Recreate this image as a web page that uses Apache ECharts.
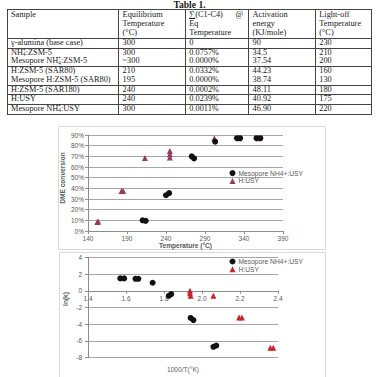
<!DOCTYPE html>
<html><head><meta charset="utf-8">
<script src="https://cdn.jsdelivr.net/npm/echarts@6/dist/echarts.min.js"></script>
<style>
html,body{margin:0;padding:0;background:#fff;width:379px;height:377px;overflow:hidden;}
#chart{position:absolute;left:0;top:0;width:379px;height:377px;}
#tblwrap{position:absolute;left:0;top:0;width:379px;font-family:"Liberation Serif","DejaVu Serif",serif;color:#1a1a1a;z-index:2;}
#ttl{position:absolute;left:0;width:379px;top:-1px;text-align:center;font-weight:bold;font-size:9.6px;line-height:11px;}
table{position:absolute;left:6.5px;top:9.3px;border-collapse:collapse;font-size:8.3px;table-layout:fixed;}
td{border-left:0.8px solid #444;border-right:0.8px solid #444;padding:0 0 0 3.5px;vertical-align:middle;white-space:nowrap;line-height:8.6px;}
tr.hdr td{vertical-align:top;line-height:8.8px;padding-top:1px;height:26.7px;border-top:0.8px solid #444;border-bottom:0.8px solid #444;}
tr.bl td{border-bottom:0.8px solid #444;}
.sb{font-size:5.2px;position:relative;top:1.5px;line-height:0;vertical-align:baseline;}
.sp{font-size:5.2px;position:relative;top:-3px;line-height:0;vertical-align:baseline;}
.just{display:flex;justify-content:space-between;padding-right:5px;}
.u{text-decoration:underline;}
</style></head>
<body>
<div id="chart"></div>
<div id="tblwrap"><div id="ttl">Table 1.</div><table id="tbl"></table></div>
<script>
// ---- table data ----
const tableTitle = "Table 1.";
const headerLines = [
  ["Sample"],
  ["Equilibrium", "Temperature", "(°C)"],
  ["∑(C1-C4)|@", "Eq", "Temperature"],
  ["Activation", "energy", "(KJ/mole)"],
  ["Light-off", "Temperature", "(°C)"]
];
const samples = ["γ-alumina (base case)", "NH4+:ZSM-5", "Mesopore NH4+:ZSM-5", "H:ZSM-5 (SAR80)",
  "Mesopore H:ZSM-5 (SAR80)", "H:ZSM-5 (SAR180)", "H:USY", "Mesopore NH4+:USY"];
const eqTemps = ["300", "300", "~300", "210", "195", "240", "240", "300"];
const sumC1C4 = ["0", "0.0757%", "0.0000%", "0.0332%", "0.0000%", "0.0002%", "0.0239%", "0.0011%"];
const activationEnergy = ["90", "34.5", "37.54", "44.23", "38.74", "48.11", "40.92", "46.90"];
const lightOffTemps = ["230", "210", "200", "160", "130", "180", "175", "220"];

// ---- chart 1: conversion vs temperature ----
const seriesNames = ["Mesopore NH4+:USY", "H:USY"];
const tempMeso = [210, 214, 240, 244, 273, 276, 303, 331, 335, 356, 361];
const convMeso = [10, 9.5, 33.5, 35.5, 70, 68, 83.7, 87, 87, 87, 87];
const tempHUSY = [152, 153, 183, 185, 213, 245, 245, 245, 302, 334, 359];
const convHUSY = [8.5, 8.8, 37.5, 37.5, 68.5, 69, 72, 75, 87, 87, 87];
const tempTicks = [140, 190, 240, 290, 340, 390];

// ---- chart 2: Arrhenius ----
const invTMeso = [1.57, 1.59, 1.65, 1.665, 1.74, 1.825, 1.838, 1.94, 1.955, 2.06, 2.075];
const lnkMeso = [1.48, 1.48, 1.43, 1.43, 0.96, -0.6, -0.4, -3.25, -3.5, -6.7, -6.55];
const invTHUSY = [1.937, 1.937, 1.94, 2.06, 2.195, 2.21, 2.36, 2.375];
const lnkHUSY = [0, -0.3, -0.6, -0.6, -3.2, -3.2, -6.8, -6.8];
const lnkRange = [-8, 4];

// build table
const colW = [111.6, 66.7, 63.3, 66.7, 56];
const rowH = [9, 9, 9.3, 9.3, 9.5, 9.6, 9, 9];
const bottomLine = [true, false, true, false, true, true, true, true];
function fmt(s){ return s.replace(/NH4\+/g, 'NH<span class="sb">4</span><span class="sp" style="margin-left:-2.8px">+</span>'); }
let html = '<colgroup>' + colW.map(w => '<col style="width:' + w + 'px">').join('') + '</colgroup>';
html += '<tr class="hdr">' + headerLines.map(lines => '<td>' + lines.map(l => {
  if (l.indexOf('|') >= 0) { const p = l.split('|'); return '<div class="just"><span><span class="u">∑</span>' + p[0].slice(1) + '</span><span>' + p[1] + '</span></div>'; }
  return '<div>' + l + '</div>';
}).join('') + '</td>').join('') + '</tr>';
samples.forEach((s, i) => {
  html += '<tr' + (bottomLine[i] ? ' class="bl"' : '') + ' style="height:' + rowH[i] + 'px">' +
    [fmt(s), eqTemps[i], sumC1C4[i], activationEnergy[i], lightOffTemps[i]].map(c => '<td>' + c + '</td>').join('') + '</tr>';
});
document.getElementById('tbl').innerHTML = html;
document.getElementById('ttl').textContent = tableTitle;

const FF = '"Liberation Sans", Arial, sans-serif';
const lblStyle = {fontSize: 6.5, color: '#595959', fontFamily: FF};
const titleStyle = {fontSize: 6.6, color: '#595959', fontFamily: FF, fontWeight: 'bold'};
const axLine = {show: true, lineStyle: {color: '#8c8c8c', width: 1}};
const tick = {show: true, length: 3, lineStyle: {color: '#8c8c8c'}};
const split = {show: true, lineStyle: {color: '#a6a6a6', width: 1}};
const black = '#111111';
const maroon = '#963a5e';
const red = '#c8252c';

const g2 = {left: 88, top: 257.3, width: 190, height: 100.4};
// place the 2nd x axis where ln(k) = 0 (axis crossing)
const zeroOffset = -g2.height * (0 - lnkRange[0]) / (lnkRange[1] - lnkRange[0]);

const chart = echarts.init(document.getElementById('chart'), null, {renderer: 'svg'});
chart.setOption({
  animation: false,
  backgroundColor: '#fff',
  grid: [
    {left: 88, top: 135, width: 195, height: 96, outerBoundsMode: 'none', containLabel: false},
    Object.assign({outerBoundsMode: 'none', containLabel: false}, g2)
  ],
  xAxis: [
    {gridIndex: 0, type: 'value', min: tempTicks[0], max: tempTicks[tempTicks.length - 1], interval: tempTicks[1] - tempTicks[0],
     axisLine: axLine, axisTick: tick, splitLine: {show: false},
     axisLabel: Object.assign({margin: 4}, lblStyle),
     name: 'Temperature (°C)', nameLocation: 'middle', nameGap: 10.5, nameMoveOverlap: false, nameTextStyle: titleStyle},
    {gridIndex: 1, type: 'value', min: 1.4, max: 2.4, interval: 0.2, offset: zeroOffset,
     axisLine: Object.assign({onZero: false}, axLine), axisTick: tick, splitLine: {show: false},
     axisLabel: Object.assign({margin: 4, formatter: v => v.toFixed(1)}, lblStyle),
     name: '1000/T(°K)', nameLocation: 'middle', nameGap: 75, nameMoveOverlap: false, nameTextStyle: Object.assign({}, titleStyle, {fontWeight: 'normal'})}
  ],
  yAxis: [
    {gridIndex: 0, type: 'value', min: 0, max: 90, interval: 10,
     axisLine: axLine, axisTick: tick, splitLine: split,
     axisLabel: Object.assign({margin: 4, formatter: '{value}%'}, lblStyle)},
    {gridIndex: 1, type: 'value', min: lnkRange[0], max: lnkRange[1], interval: 2,
     axisLine: axLine, axisTick: tick, splitLine: split,
     axisLabel: Object.assign({margin: 6}, lblStyle)}
  ],
  legend: [
    {left: 229.5, top: 169.6, orient: 'vertical', padding: 0, itemGap: 0.8, itemWidth: 6, itemHeight: 6,
     textStyle: {fontSize: 6.7, color: '#595959', fontFamily: FF, lineHeight: 7, padding: [0, 0, 0, -2]},
     data: [{name: seriesNames[0], icon: 'circle', itemStyle: {color: black}},
            {name: seriesNames[1], icon: 'triangle', itemStyle: {color: maroon}}]},
    {left: 229.5, top: 258, orient: 'vertical', padding: 0, itemGap: 0.8, itemWidth: 6, itemHeight: 6,
     textStyle: {fontSize: 6.7, color: '#595959', fontFamily: FF, lineHeight: 7, padding: [0, 0, 0, -2]},
     data: [{name: seriesNames[0], icon: 'circle', itemStyle: {color: black}},
            {name: seriesNames[1], icon: 'triangle', itemStyle: {color: red}}]}
  ],
  graphic: [
    {type: 'rect', shape: {x: 58.5, y: 126.5, width: 267, height: 123}, style: {fill: 'none', stroke: '#d9d9d9', lineWidth: 1}, z: -1},
    {type: 'rect', shape: {x: 59.5, y: 252.5, width: 266, height: 130}, style: {fill: 'none', stroke: '#d9d9d9', lineWidth: 1}, z: -1},
    {type: 'text', x: 62, y: 178, rotation: Math.PI / 2, style: {text: 'DME conversion', fill: '#595959', font: 'bold 6.6px ' + FF, textAlign: 'center', textVerticalAlign: 'middle'}},
    {type: 'text', x: 65, y: 299, rotation: Math.PI / 2, style: {text: 'ln(k)', fill: '#595959', font: 'bold 6.6px ' + FF, textAlign: 'center', textVerticalAlign: 'middle'}}
  ],
  series: [
    {name: seriesNames[0], type: 'scatter', xAxisIndex: 0, yAxisIndex: 0, symbol: 'circle', symbolSize: 6, z: 3,
     itemStyle: {color: black, opacity: 1}, data: tempMeso.map((t, i) => [t, convMeso[i]])},
    {name: seriesNames[1], type: 'scatter', xAxisIndex: 0, yAxisIndex: 0, symbol: 'triangle', symbolSize: 6, z: 2,
     itemStyle: {color: maroon, opacity: 1}, data: tempHUSY.map((t, i) => [t, convHUSY[i]])},
    {name: seriesNames[0], type: 'scatter', xAxisIndex: 1, yAxisIndex: 1, symbol: 'circle', symbolSize: 6, z: 2,
     itemStyle: {color: black, opacity: 1}, data: invTMeso.map((t, i) => [t, lnkMeso[i]])},
    {name: seriesNames[1], type: 'scatter', xAxisIndex: 1, yAxisIndex: 1, symbol: 'triangle', symbolSize: 6, z: 3,
     itemStyle: {color: red, opacity: 1}, data: invTHUSY.map((t, i) => [t, lnkHUSY[i]])}
  ]
});
</script>
</body></html>
